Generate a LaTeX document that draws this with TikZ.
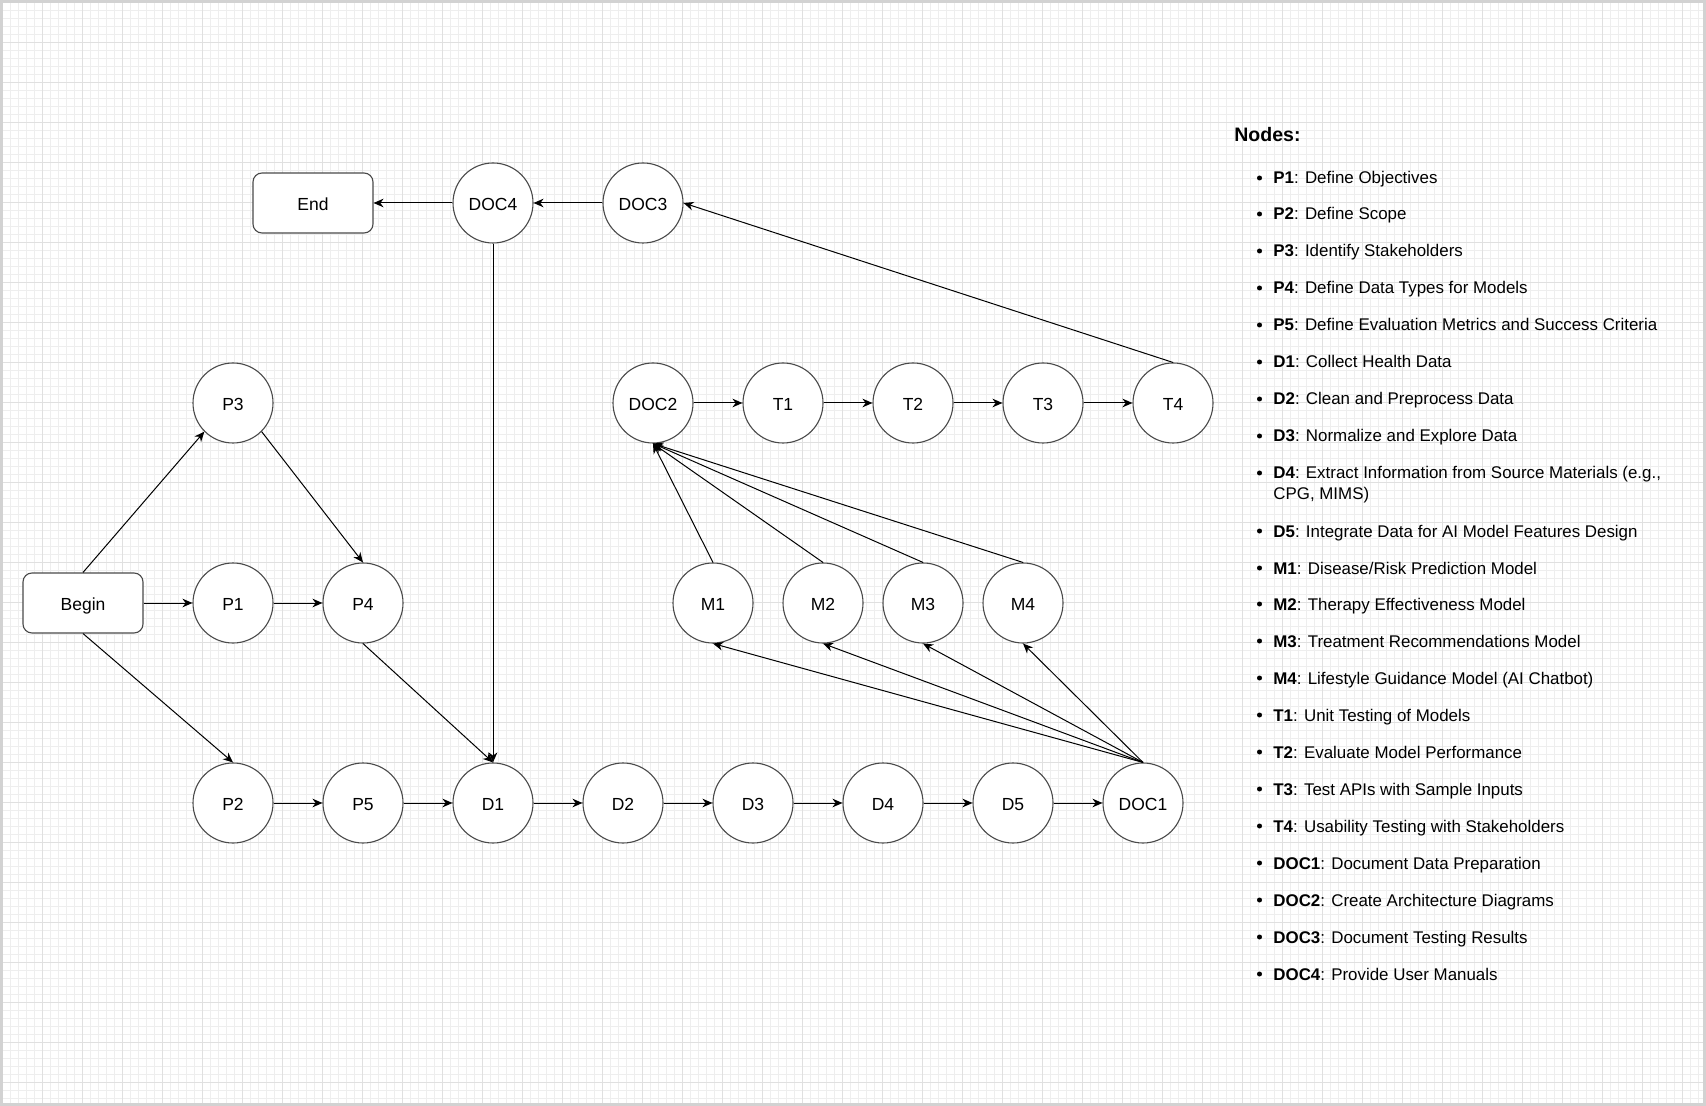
\documentclass[tikz,border=0pt]{standalone}
\usepackage{fontspec}
\setmainfont{Liberation Sans}
\usetikzlibrary{arrows.meta}

\definecolor{gridmajor}{HTML}{E0E0E0}
\definecolor{gridminor}{HTML}{EEEEEE}
\definecolor{framegray}{HTML}{D2D2D2}
\definecolor{shapeline}{HTML}{4A4A4A}

\tikzset{
  state/.style={circle, draw=shapeline, fill=white, line width=0.55pt,
    minimum size=40pt, inner sep=0pt, text height=0.9em, text depth=0.184em,
    font=\fontsize{8.75}{10}\selectfont},
  terminal/.style={rectangle, rounded corners=4.5pt, draw=shapeline, fill=white,
    line width=0.55pt, minimum width=60pt, minimum height=30pt,
    text height=0.9em, text depth=0.184em, font=\fontsize{8.75}{10}\selectfont},
  flow/.style={-{Stealth[length=5pt,width=4.3pt,inset=1.6pt]}, line width=0.5pt, black},
  legendhead/.style={anchor=base west, inner sep=0pt, font=\bfseries\fontsize{9.75}{11}\selectfont},
  legenditem/.style={anchor=base west, inner sep=0pt, font=\fontsize{8.45}{10}\selectfont},
}

\begin{document}
\begin{tikzpicture}[x=0.5pt,y=-0.5pt]
  \useasboundingbox (0,0) rectangle (1706,1106);
  \fill[white] (0,0) rectangle (1706,1106);
  % background grid
  \begin{scope}[shift={(2.7,2.7)}]
    \draw[gridminor, line width=0.5pt, step=4pt] (-2.7,1103.3) grid (1703.3,-2.7);
    \draw[gridmajor, line width=0.75pt, step=20pt] (-2.7,1103.3) grid (1703.3,-2.7);
  \end{scope}
  \draw[framegray, line width=1.3pt] (1.3,1.3) rectangle (1704.7,1104.7);

  % terminals
  \node[terminal] (start) at (83,603) {Begin};
  \node[terminal] (stop) at (313,203) {End};

  % planning
  \node[state] (p1) at (233,603) {P1};
  \node[state] (p2) at (233,803) {P2};
  \node[state] (p3) at (233,403) {P3};
  \node[state] (p4) at (363,603) {P4};
  \node[state] (p5) at (363,803) {P5};

  % data
  \node[state] (d1) at (493,803) {D1};
  \node[state] (d2) at (623,803) {D2};
  \node[state] (d3) at (753,803) {D3};
  \node[state] (d4) at (883,803) {D4};
  \node[state] (d5) at (1013,803) {D5};
  \node[state] (doc1) at (1143,803) {DOC1};

  % models
  \node[state] (m1) at (713,603) {M1};
  \node[state] (m2) at (823,603) {M2};
  \node[state] (m3) at (923,603) {M3};
  \node[state] (m4) at (1023,603) {M4};

  % testing
  \node[state] (doc2) at (653,403) {DOC2};
  \node[state] (t1) at (783,403) {T1};
  \node[state] (t2) at (913,403) {T2};
  \node[state] (t3) at (1043,403) {T3};
  \node[state] (t4) at (1173,403) {T4};

  % documentation
  \node[state] (doc3) at (643,203) {DOC3};
  \node[state] (doc4) at (493,203) {DOC4};

  % connectors
  \draw[flow] (start) -- (p1);
  \draw[flow] (start.north) -- (p3.south west);
  \draw[flow] (start.south) -- (p2.north);
  \draw[flow] (p1) -- (p4);
  \draw[flow] (p3.south east) -- (p4.north);
  \draw[flow] (p4.south) -- (d1.north);
  \draw[flow] (doc4.south) -- (d1.north);
  \draw[flow] (p2) -- (p5);
  \draw[flow] (p5) -- (d1);
  \draw[flow] (d1) -- (d2);
  \draw[flow] (d2) -- (d3);
  \draw[flow] (d3) -- (d4);
  \draw[flow] (d4) -- (d5);
  \draw[flow] (d5) -- (doc1);
  \draw[flow] (doc1.north) -- (m1.south);
  \draw[flow] (doc1.north) -- (m2.south);
  \draw[flow] (doc1.north) -- (m3.south);
  \draw[flow] (doc1.north) -- (m4.south);
  \draw[flow] (m1.north) -- (doc2.south);
  \draw[flow] (m2.north) -- (doc2.south);
  \draw[flow] (m3.north) -- (doc2.south);
  \draw[flow] (m4.north) -- (doc2.south);
  \draw[flow] (doc2) -- (t1);
  \draw[flow] (t1) -- (t2);
  \draw[flow] (t2) -- (t3);
  \draw[flow] (t3) -- (t4);
  \draw[flow] (t4.north) -- (doc3.east);
  \draw[flow] (doc3) -- (doc4);
  \draw[flow] (doc4) -- (stop);

  % legend
  \node[legendhead] (keyhead) at (1234,142) {Nodes:};
  \fill (1259.5,178) circle (2.5);
  \node[legenditem] (keyp1) at (1273,184) {\textbf{P1}: Define Objectives};
  \fill (1259.5,214) circle (2.5);
  \node[legenditem] (keyp2) at (1273,220) {\textbf{P2}: Define Scope};
  \fill (1259.5,251) circle (2.5);
  \node[legenditem] (keyp3) at (1273,257) {\textbf{P3}: Identify Stakeholders};
  \fill (1259.5,288) circle (2.5);
  \node[legenditem] (keyp4) at (1273,294) {\textbf{P4}: Define Data Types for Models};
  \fill (1259.5,325) circle (2.5);
  \node[legenditem] (keyp5) at (1273,331) {\textbf{P5}: Define Evaluation Metrics and Success Criteria};
  \fill (1259.5,362) circle (2.5);
  \node[legenditem] (keyd1) at (1273,368) {\textbf{D1}: Collect Health Data};
  \fill (1259.5,399) circle (2.5);
  \node[legenditem] (keyd2) at (1273,405) {\textbf{D2}: Clean and Preprocess Data};
  \fill (1259.5,436) circle (2.5);
  \node[legenditem] (keyd3) at (1273,442) {\textbf{D3}: Normalize and Explore Data};
  \fill (1259.5,473) circle (2.5);
  \node[legenditem] (keyd4) at (1273,479) {\textbf{D4}: Extract Information from Source Materials (e.g.,};
  \node[legenditem] (keyd4b) at (1273,499) {CPG, MIMS)};
  \fill (1259.5,531) circle (2.5);
  \node[legenditem] (keyd5) at (1273,537) {\textbf{D5}: Integrate Data for AI Model Features Design};
  \fill (1259.5,568) circle (2.5);
  \node[legenditem] (keym1) at (1273,574) {\textbf{M1}: Disease/Risk Prediction Model};
  \fill (1259.5,604) circle (2.5);
  \node[legenditem] (keym2) at (1273,610) {\textbf{M2}: Therapy Effectiveness Model};
  \fill (1259.5,641) circle (2.5);
  \node[legenditem] (keym3) at (1273,647) {\textbf{M3}: Treatment Recommendations Model};
  \fill (1259.5,678) circle (2.5);
  \node[legenditem] (keym4) at (1273,684) {\textbf{M4}: Lifestyle Guidance Model (AI Chatbot)};
  \fill (1259.5,715) circle (2.5);
  \node[legenditem] (keyt1) at (1273,721) {\textbf{T1}: Unit Testing of Models};
  \fill (1259.5,752) circle (2.5);
  \node[legenditem] (keyt2) at (1273,758) {\textbf{T2}: Evaluate Model Performance};
  \fill (1259.5,789) circle (2.5);
  \node[legenditem] (keyt3) at (1273,795) {\textbf{T3}: Test APIs with Sample Inputs};
  \fill (1259.5,826) circle (2.5);
  \node[legenditem] (keyt4) at (1273,832) {\textbf{T4}: Usability Testing with Stakeholders};
  \fill (1259.5,863) circle (2.5);
  \node[legenditem] (keydoc1) at (1273,869) {\textbf{DOC1}: Document Data Preparation};
  \fill (1259.5,900) circle (2.5);
  \node[legenditem] (keydoc2) at (1273,906) {\textbf{DOC2}: Create Architecture Diagrams};
  \fill (1259.5,937) circle (2.5);
  \node[legenditem] (keydoc3) at (1273,943) {\textbf{DOC3}: Document Testing Results};
  \fill (1259.5,974) circle (2.5);
  \node[legenditem] (keydoc4) at (1273,980) {\textbf{DOC4}: Provide User Manuals};
\end{tikzpicture}
\end{document}
